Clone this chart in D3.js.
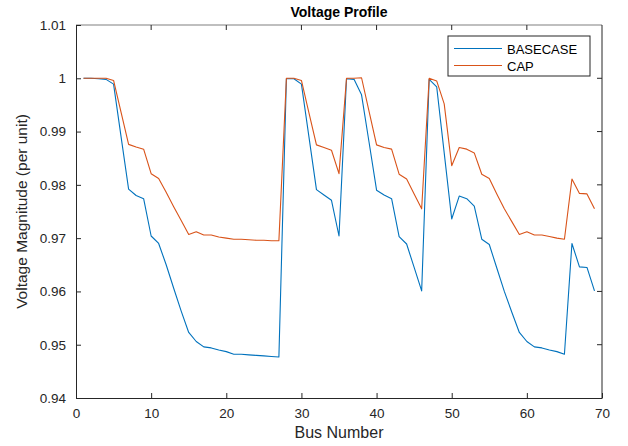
<!DOCTYPE html>
<html>
<head>
<meta charset="utf-8">
<script src="https://cdn.jsdelivr.net/npm/d3@7"></script>
<style>
  body { margin: 0; background: #fff; }
  text { font-family: "Liberation Sans", Arial, sans-serif; }
</style>
</head>
<body>
<div id="chart"></div>
<script>
// bus voltages (per unit), buses 1..69
const buses = d3.range(1, 70);
const basecase = [
  1.0000, 1.0000, 0.9999, 0.9998, 0.9989, 0.9890, 0.9792, 0.9780, 0.9774, 0.9704,
  0.9690, 0.9650, 0.9606, 0.9563, 0.9523, 0.9506, 0.9496, 0.9494, 0.9490, 0.9487,
  0.9482, 0.9482, 0.9481, 0.9480, 0.9479, 0.9478, 0.9477, 0.9999, 0.9999, 0.9989,
  0.9890, 0.9791, 0.9781, 0.9771, 0.9704, 0.9999, 0.9998, 0.9969, 0.9880, 0.9790,
  0.9781, 0.9774, 0.9703, 0.9689, 0.9645, 0.9601, 0.9998, 0.9984, 0.9860, 0.9736,
  0.9779, 0.9774, 0.9760, 0.9698, 0.9688, 0.9644, 0.9600, 0.9561, 0.9523, 0.9506,
  0.9496, 0.9494, 0.9490, 0.9487, 0.9482, 0.9690, 0.9646, 0.9645, 0.9601
];
const cap = [
  1.0000, 1.0000, 1.0000, 1.0000, 0.9996, 0.9936, 0.9876, 0.9871, 0.9867, 0.9821,
  0.9812, 0.9786, 0.9759, 0.9733, 0.9707, 0.9712, 0.9706, 0.9706, 0.9702, 0.9700,
  0.9698, 0.9698, 0.9697, 0.9696, 0.9696, 0.9695, 0.9695, 1.0000, 1.0000, 0.9996,
  0.9935, 0.9875, 0.9870, 0.9865, 0.9821, 1.0000, 1.0000, 1.0001, 0.9938, 0.9875,
  0.9870, 0.9867, 0.9820, 0.9811, 0.9783, 0.9755, 1.0000, 0.9995, 0.9952, 0.9836,
  0.9870, 0.9867, 0.9860, 0.9820, 0.9812, 0.9783, 0.9755, 0.9731, 0.9707, 0.9712,
  0.9706, 0.9706, 0.9703, 0.9700, 0.9698, 0.9811, 0.9784, 0.9783, 0.9755
];
const series = [
  {name: "BASECASE", values: basecase, color: "#0072BD"},
  {name: "CAP", values: cap, color: "#D95319"}
];
const xTicks = [0, 10, 20, 30, 40, 50, 60, 70];
const yTicks = [0.94, 0.95, 0.96, 0.97, 0.98, 0.99, 1.00, 1.01];

const width = 628, height = 446;
const margin = {top: 25, right: 26, bottom: 48, left: 76};

const svg = d3.select("#chart").append("svg")
  .attr("width", width)
  .attr("height", height);

const x = d3.scaleLinear().domain([0, 70]).range([margin.left, width - margin.right]);
const y = d3.scaleLinear().domain([0.94, 1.01]).range([height - margin.bottom, margin.top]);

const axisColor = "#262626";
const tickLen = 5;

// the lines
const line = d3.line()
  .x((d, i) => x(buses[i]))
  .y(d => y(d));

svg.append("g").selectAll("path")
  .data(series)
  .enter()
  .append("path")
  .attr("d", d => line(d.values))
  .attr("fill", "none")
  .attr("stroke", d => d.color)
  .attr("stroke-width", 1.1)
  .attr("stroke-linejoin", "round");

// box: top edge lighter like the reference
svg.append("line")
  .attr("x1", x(0)).attr("x2", x(70))
  .attr("y1", y(1.01)).attr("y2", y(1.01))
  .attr("stroke", "#aaaaaa").attr("stroke-width", 1.5);
svg.append("line")
  .attr("x1", x(70)).attr("x2", x(70))
  .attr("y1", y(1.01)).attr("y2", y(0.94))
  .attr("stroke", axisColor).attr("stroke-width", 1);

// x axis (ticks pointing in)
const xAxis = g => g
  .attr("transform", `translate(0,${y(0.94)})`)
  .call(d3.axisBottom(x).tickValues(xTicks).tickSizeInner(-tickLen).tickSizeOuter(0).tickPadding(10))
  .call(g => g.select(".domain").attr("stroke", axisColor))
  .call(g => g.selectAll(".tick line").attr("stroke", axisColor))
  .call(g => g.selectAll(".tick text").attr("fill", axisColor).attr("font-size", 13.5));

const yAxis = g => g
  .attr("transform", `translate(${x(0)},0)`)
  .call(d3.axisLeft(y).tickValues(yTicks).tickSizeInner(-tickLen).tickSizeOuter(0).tickPadding(10)
    .tickFormat(d => d === 1 ? "1" : d3.format(".2f")(d)))
  .call(g => g.select(".domain").attr("stroke", axisColor))
  .call(g => g.selectAll(".tick line").attr("stroke", axisColor))
  .call(g => g.selectAll(".tick text").attr("fill", axisColor).attr("font-size", 13.5));

svg.append("g").call(xAxis);
svg.append("g").call(yAxis);

// ticks on top and right edges
svg.append("g").selectAll("line")
  .data(xTicks.slice(1, -1))
  .enter().append("line")
  .attr("x1", d => x(d)).attr("x2", d => x(d))
  .attr("y1", y(1.01)).attr("y2", y(1.01) + tickLen)
  .attr("stroke", axisColor);
svg.append("g").selectAll("line")
  .data(yTicks.slice(1, -1))
  .enter().append("line")
  .attr("x1", x(70)).attr("x2", x(70) - tickLen)
  .attr("y1", d => y(d)).attr("y2", d => y(d))
  .attr("stroke", axisColor);

// title and labels
svg.append("text")
  .attr("x", (x(0) + x(70)) / 2).attr("y", 17)
  .attr("text-anchor", "middle")
  .attr("font-size", 14).attr("font-weight", "bold")
  .attr("fill", "#000")
  .text("Voltage Profile");

svg.append("text")
  .attr("x", (x(0) + x(70)) / 2).attr("y", 438)
  .attr("text-anchor", "middle")
  .attr("font-size", 16).attr("fill", axisColor)
  .text("Bus Number");

svg.append("text")
  .attr("transform", `translate(27,${(y(0.94) + y(1.01)) / 2}) rotate(-90)`)
  .attr("text-anchor", "middle")
  .attr("font-size", 15.5).attr("fill", axisColor)
  .text("Voltage Magnitude (per unit)");

// legend
const lg = svg.append("g").attr("transform", "translate(448,36)");
lg.append("rect")
  .attr("width", 142).attr("height", 40)
  .attr("fill", "#fff").attr("stroke", axisColor).attr("stroke-width", 1);
lg.selectAll("g.item")
  .data(series)
  .enter().append("g").attr("class", "item")
  .attr("transform", (d, i) => `translate(0,${12.5 + i * 17})`)
  .each(function(d) {
    const g = d3.select(this);
    g.append("line").attr("x1", 6).attr("x2", 54).attr("y1", 0).attr("y2", 0)
      .attr("stroke", d.color).attr("stroke-width", 1.1);
    g.append("text").attr("x", 59).attr("y", 5)
      .attr("font-size", 13).attr("fill", "#000").text(d.name);
  });
</script>
</body>
</html>
